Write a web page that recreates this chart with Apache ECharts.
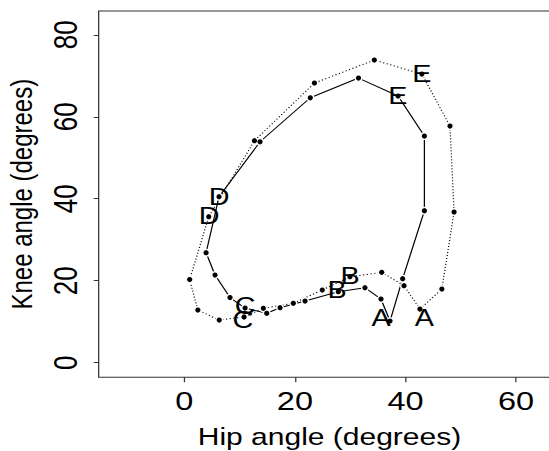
<!DOCTYPE html>
<html>
<head>
<meta charset="utf-8">
<script src="https://cdn.jsdelivr.net/npm/echarts@6/dist/echarts.min.js"></script>
<style>
html,body{margin:0;padding:0;background:#fff;overflow:hidden;}
#wrap{width:549px;height:451px;overflow:hidden;}
#c{width:449px;height:451px;transform:scaleX(1.2506);transform-origin:0 0;}
</style>
</head>
<body>
<div id="wrap"><div id="c"></div></div>
<script>
// Boy's gait cycle (solid line)
const boyHip  = [37.2, 35.57, 32.67, 27.85, 21.83, 17.31, 14.9, 10.98, 8.26, 5.55, 3.93, 6.27, 13.69, 22.78, 31.5, 38.66, 43.42, 43.42, 39.49];
const boyKnee = [10.17, 15.54, 18.29, 17.32, 15.05, 13.41, 12.05, 13.34, 15.9, 21.39, 26.83, 40.49, 53.9, 64.63, 69.44, 65.05, 55.29, 37.07, 20.49];
// Mean gait cycle (dotted line)
const meanHip  = [42.62, 39.73, 35.7, 29.96, 24.95, 19.71, 14.29, 10.8, 6.31, 2.44, 0.96, 4.41, 12.68, 23.53, 34.36, 42.97, 48.05, 48.79, 46.58];
const meanKnee = [13.1, 18.78, 22.05, 20.98, 17.73, 14.49, 13.27, 11.15, 10.41, 12.85, 20.27, 35.61, 54.15, 68.22, 73.83, 70.41, 57.73, 36.76, 17.98];
// Letter markers
const letterText = ['A', 'A', 'B', 'B', 'C', 'C', 'D', 'D', 'E', 'E'];
const letterHip  = [35.57, 43.42, 29.96, 27.61, 10.98, 10.61, 6.27, 4.47, 38.64, 42.98];
const letterKnee = [10.9, 10.9, 21.02, 17.61, 13.83, 10.41, 40.41, 35.66, 65.05, 70.41];
// Tick labels
const xTicks = [0, 20, 40, 60];
const yTicks = [0, 20, 40, 60, 80];

const FONT = "'Liberation Sans', Arial, Helvetica, sans-serif";
function pts(xs, ys) { return xs.map((x, i) => [x, ys[i]]); }
function closed(xs, ys) { const p = pts(xs, ys); p.push(p[0].slice()); return p; }

const boyPts = pts(boyHip, boyKnee);
const meanPts = pts(meanHip, meanKnee);
const letterPts = letterHip.map((x, i) => ({ value: [x, letterKnee[i]], name: letterText[i] }));

const chart = echarts.init(document.getElementById('c'), null, { renderer: 'svg' });
chart.setOption({
  animation: false,
  backgroundColor: '#fff',
  grid: { left: 78.9, right: 1, top: 11, bottom: 73.7, show: true, borderColor: '#333', borderWidth: 1,
          containLabel: false, outerBoundsMode: 'none' },
  xAxis: {
    type: 'value', min: -15.5, max: 68,
    name: 'Hip angle (degrees)', nameLocation: 'middle', nameGap: 47,
    nameTextStyle: { fontSize: 24, color: '#000', fontFamily: FONT },
    axisLine: { show: false, onZero: false },
    axisTick: { show: true, length: 5, inside: false, lineStyle: { color: '#333', width: 1 }, customValues: xTicks },
    axisLabel: { show: true, customValues: xTicks, fontSize: 26, color: '#000', fontFamily: FONT, margin: 10 },
    splitLine: { show: false }
  },
  yAxis: {
    type: 'value', min: -3.56, max: 85.8,
    name: 'Knee angle (degrees)', nameLocation: 'middle', nameGap: 50, nameRotate: 90,
    nameTextStyle: { fontSize: 24, color: '#000', fontFamily: FONT },
    axisLine: { show: false, onZero: false },
    axisTick: { show: true, length: 4, inside: false, lineStyle: { color: '#333', width: 1 }, customValues: yTicks },
    axisLabel: { show: true, customValues: yTicks, fontSize: 26, color: '#000', fontFamily: FONT, rotate: 90, margin: 14 },
    splitLine: { show: false }
  },
  series: [
    { type: 'line', data: closed(boyHip, boyKnee), symbol: 'none', z: 2,
      lineStyle: { color: '#000', width: 1, type: 'solid' } },
    { type: 'line', data: closed(meanHip, meanKnee), symbol: 'none', z: 2,
      lineStyle: { color: '#000', width: 1, type: [1, 2] } },
    { type: 'scatter', data: boyPts.concat(meanPts), symbol: 'circle', symbolSize: [6.4, 8], z: 3,
      itemStyle: { color: '#fff', opacity: 1 }, silent: true },
    { type: 'scatter', data: boyPts.concat(meanPts), symbol: 'circle', symbolSize: [4.2, 5.2], z: 4,
      itemStyle: { color: '#000', opacity: 1 } },
    { type: 'scatter', data: letterPts, symbolSize: 0, z: 5, itemStyle: { color: '#000', opacity: 1 },
      label: { show: true, position: 'inside', formatter: p => p.name, fontSize: 23, color: '#000', opacity: 1,
               textBorderWidth: 0, textBorderColor: 'transparent', fontFamily: FONT } }
  ]
});
</script>
</body>
</html>
